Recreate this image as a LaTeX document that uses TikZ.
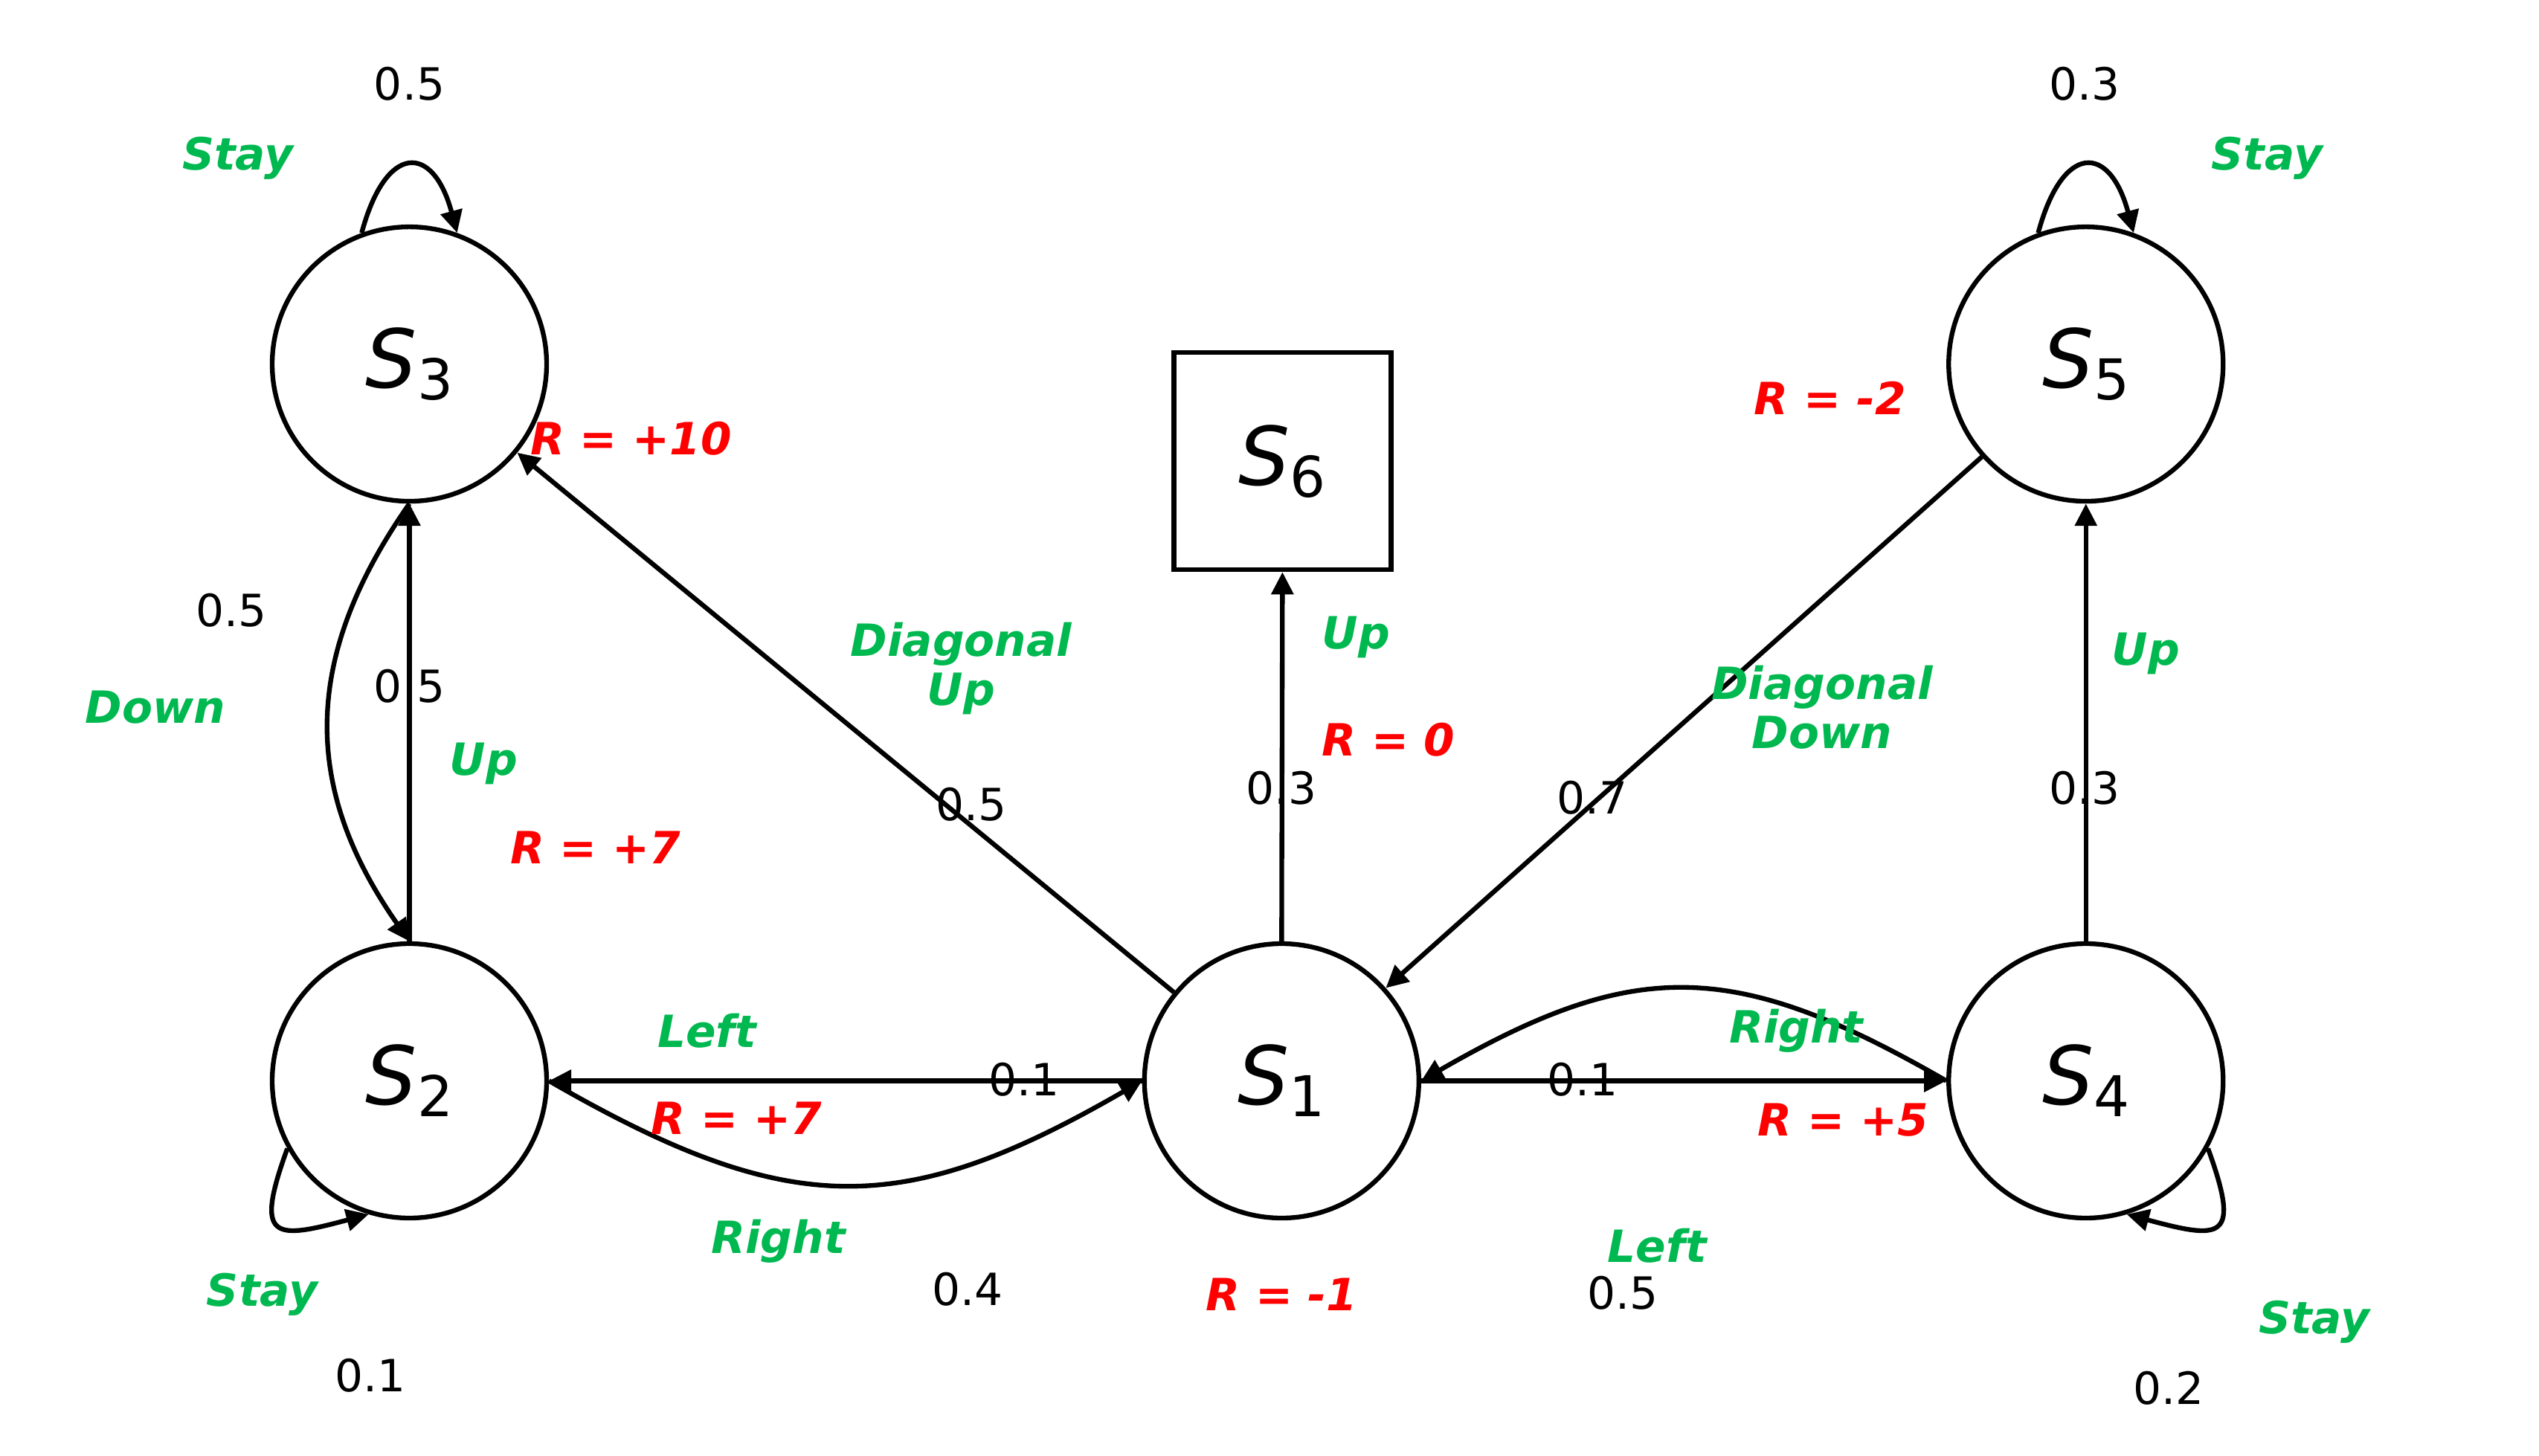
\documentclass[tikz,border=0pt]{standalone}
\usepackage{fontspec}
\setmainfont{DejaVu Sans}
\usetikzlibrary{arrows.meta}
\definecolor{actgreen}{RGB}{0,184,80}
\tikzset{
    state/.style={circle, draw, line width=1.8pt, minimum size=3.69cm, inner sep=0pt,
        font=\fontsize{31}{31}\selectfont},
    goal/.style={rectangle, draw, line width=1.8pt, minimum size=2.92cm, inner sep=0pt,
        font=\fontsize{31}{31}\selectfont},
    prob/.style={inner sep=0pt, font=\fontsize{17}{18.8}\selectfont},
    act/.style={inner sep=0pt, align=center, text=actgreen,
        font=\fontsize{17}{18.8}\selectfont\bfseries\itshape},
    rew/.style={inner sep=0pt, text=red, font=\fontsize{17}{18.8}\selectfont\bfseries\itshape},
    edge/.style={line width=1.8pt, -{Triangle[length=0.3cm, width=0.29cm]}}
}
\newcommand{\stname}[1]{{\itshape S}\raisebox{-0.16cm}{\fontsize{21.5}{21.5}\selectfont #1}}

\begin{document}
\begin{tikzpicture}[x=0.021759cm, y=0.021759cm]
    \useasboundingbox (0,0) rectangle (1569,-899.4);
    % states
    \node[state] (S1) at (792,-668) {\stname{1}};
    \node[state] (S2) at (253,-668) {\stname{2}};
    \node[state] (S3) at (253,-225) {\stname{3}};
    \node[state] (S4) at (1289,-668) {\stname{4}};
    \node[state] (S5) at (1289,-225) {\stname{5}};
    \node[goal] (S6) at (792.5,-285) {\stname{6}};
    % self loops
    \draw[edge] (S3.110) to[out=75, in=105, looseness=2.5] (S3.70);
    \draw[edge] (S5.110) to[out=75, in=105, looseness=2.5] (S5.70);
    \draw[edge] (S2.209) to[out=250, in=195, looseness=2.4] (S2.253);
    \draw[edge] (S4.331) to[out=290, in=345, looseness=2.4] (S4.287);
    % transitions
    \draw[edge] (S3.south) to[bend right=35, looseness=1.1] (S2.north);
    \draw[edge] (S2.north) -- (S3.south);
    \draw[edge] (S1) -- (S3);
    \draw[edge] (S1.north) -- (S6.south);
    \draw[edge] (S5) -- (S1);
    \draw[edge] (S4.north) -- (S5.south);
    \draw[edge] (S1.west) -- (S2.east);
    \draw[edge] (S2.east) to[bend right=30, looseness=1.2] (S1.west);
    \draw[edge] (S1.east) -- (S4.west);
    \draw[edge] (S4.west) to[bend right=30, looseness=1.2] (S1.east);
    % labels
    \node[prob] (p33) at (253,-52) {0.5};
    \node[act] (a33) at (147,-98) {Stay};
    \node[prob] (p55) at (1288,-52) {0.3};
    \node[act] (a55) at (1401,-98) {Stay};
    \node[rew] (r3) at (390,-271) {R = +10};
    \node[rew] (r5) at (1131,-246) {R = -2};
    \node[prob] (p32) at (143,-377) {0.5};
    \node[act] (a32) at (96,-437) {Down};
    \node[prob] (p23) at (253,-424) {0.5};
    \node[act] (a23) at (299,-472) {Up};
    \node[rew] (r23) at (368,-524) {R = +7};
    \node[act] (a13) at (594,-413) {Diagonal\\Up};
    \node[prob] (p13) at (600,-497) {0.5};
    \node[act] (a16) at (838,-394) {Up};
    \node[rew] (r16) at (858,-457) {R = 0};
    \node[prob] (p16) at (792,-487) {0.3};
    \node[act] (a51) at (1126,-437) {Diagonal\\Down};
    \node[prob] (p51) at (984,-493) {0.7};
    \node[act] (a45) at (1326,-404) {Up};
    \node[prob] (p45) at (1288,-487) {0.3};
    \node[act] (a12) at (437,-637) {Left};
    \node[prob] (p12) at (633,-667) {0.1};
    \node[rew] (r12) at (455,-691) {R = +7};
    \node[act] (a21) at (481,-767) {Right};
    \node[prob] (p21) at (598,-797) {0.4};
    \node[rew] (r1) at (792,-800) {R = -1};
    \node[prob] (p14) at (978,-667) {0.1};
    \node[act] (a14) at (1110,-637) {Right};
    \node[rew] (r14) at (1139,-692) {R = +5};
    \node[act] (a41) at (1024,-770) {Left};
    \node[prob] (p41) at (1003,-799) {0.5};
    \node[act] (a22) at (162,-800) {Stay};
    \node[prob] (p22) at (229,-850) {0.1};
    \node[act] (a44) at (1430,-817) {Stay};
    \node[prob] (p44) at (1340,-858) {0.2};
\end{tikzpicture}
\end{document}
